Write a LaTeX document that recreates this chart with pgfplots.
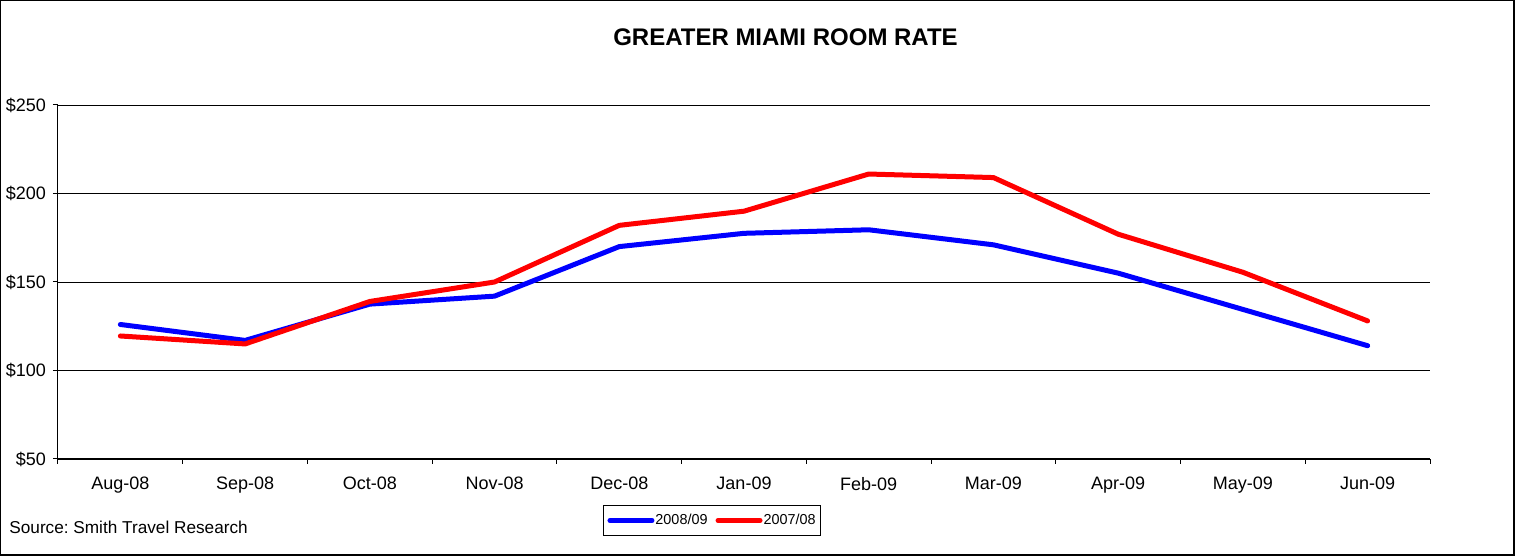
\documentclass[border=0pt]{standalone}
\usepackage{fontspec}
\setmainfont{Liberation Sans}
\usepackage{pgfplots}
\pgfplotsset{compat=1.18}
\frenchspacing
\begin{document}
\begin{tikzpicture}
\useasboundingbox (0,0) rectangle (759.5pt,278pt);
\draw[black, line width=0.6pt] (0.3pt,0.5pt) rectangle (757pt,277.7pt);
\node[font=\bfseries\fontsize{12}{14}\selectfont] at (392.75pt,259.5pt) {GREATER MIAMI ROOM RATE};
\node[anchor=west, font=\fontsize{8.6}{10}\selectfont, inner sep=0pt] at (4.5pt,14.5pt) {Source: Smith Travel Research};
\begin{axis}[
  at={(29pt,48.5pt)}, anchor=south west,
  scale only axis, width=686pt, height=177pt,
  xmin=-0.5, xmax=10.5, ymin=50, ymax=250,
  axis x line*=bottom, axis y line*=left,
  axis line style={-, line width=0.5pt},
  xtick={0,...,10},
  xticklabels={Aug-08,Sep-08,Oct-08,Nov-08,Dec-08,Jan-09,Feb-09,Mar-09,Apr-09,May-09,Jun-09},
  major x tick style={draw=none},
  minor xtick={-0.5,0.5,...,10.5},
  minor tick length=2.5pt,
  x tick style={black, line width=0.5pt},
  ytick={50,100,...,250},
  major tick length=2.5pt,
  tick align=outside,
  y tick style={black, line width=0.5pt},
  ymajorgrids, grid style={black, line width=0.4pt},
  /pgf/number format/assume math mode=true,
  yticklabel={\$\pgfmathprintnumber{\tick}},
  ticklabel style={font=\fontsize{9}{11}\selectfont},
  xticklabel style={yshift=-3pt},
  legend style={at={(0.4767,-0.1737)}, anchor=center, draw=black, line width=0.5pt,
    font=\fontsize{7.2}{8}\selectfont, inner xsep=2pt, inner ysep=2pt,
    nodes={inner xsep=0.5pt},
    /tikz/every even column/.append style={column sep=3.5pt}},
  legend columns=2,
  legend image code/.code={\draw[#1, line width=2.5pt, line cap=round] (0pt,0pt) -- (21pt,0pt);},
  legend cell align=left,
]
\addplot[blue, line width=2.5pt, line cap=round, line join=round] coordinates {
(0,126) (1,117) (2,137.5) (3,142) (4,170) (5,177.5) (6,179.5) (7,171) (8,155) (9,134.5) (10,114)};
\addlegendentry{2008/09}
\addplot[red, line width=2.5pt, line cap=round, line join=round] coordinates {
(0,119.5) (1,115) (2,139) (3,150) (4,182) (5,190) (6,211) (7,209) (8,177) (9,155.5) (10,128)};
\addlegendentry{2007/08}
\end{axis}
\end{tikzpicture}
\end{document}
